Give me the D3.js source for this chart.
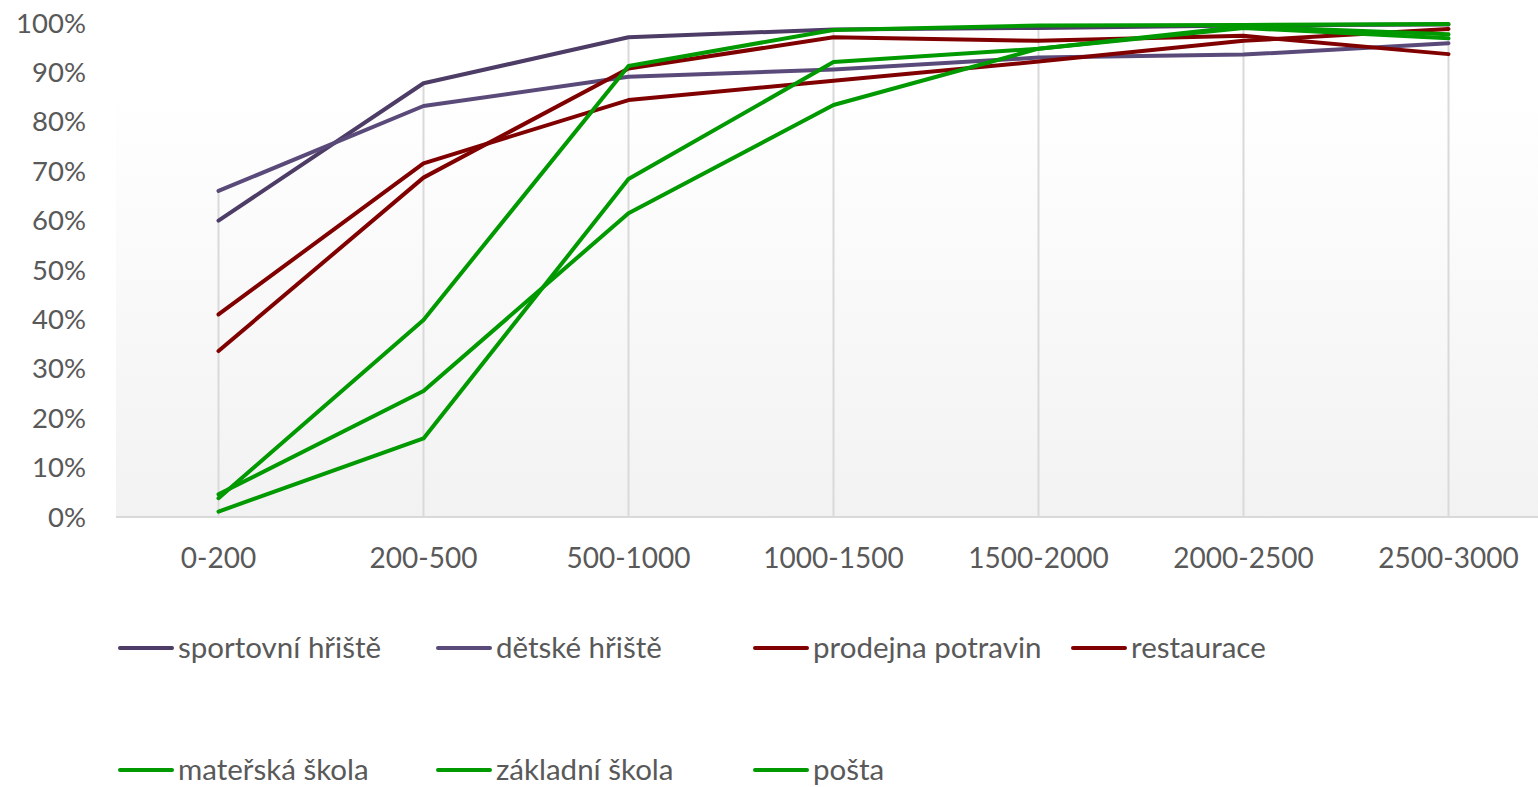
<!DOCTYPE html>
<html>
<head>
<meta charset="utf-8">
<script src="https://cdn.jsdelivr.net/npm/d3@7"></script>
<style>
  body { margin: 0; background: #fff; }
  svg text { font-family: Lato, "Open Sans", sans-serif; fill: #595959; }
</style>
</head>
<body>
<svg id="chart" width="1538" height="787"></svg>
<script>
const categories = ["0-200", "200-500", "500-1000", "1000-1500", "1500-2000", "2000-2500", "2500-3000"];
const yTicks = [0, 0.1, 0.2, 0.3, 0.4, 0.5, 0.6, 0.7, 0.8, 0.9, 1];

const sportovniHriste = [0.600, 0.878, 0.971, 0.987, 0.990, 0.995, 0.997];
const detskeHriste = [0.660, 0.832, 0.891, 0.906, 0.930, 0.936, 0.959];
const prodejnaPotravin = [0.410, 0.716, 0.844, 0.883, 0.922, 0.964, 0.988];
const restaurace = [0.336, 0.687, 0.908, 0.971, 0.964, 0.974, 0.937];
const materskaSkola = [0.038, 0.399, 0.913, 0.986, 0.995, 0.996, 0.998];
const zakladniSkola = [0.046, 0.255, 0.615, 0.834, 0.948, 0.993, 0.977];
const posta = [0.011, 0.159, 0.684, 0.921, 0.948, 0.990, 0.969];

const seriesNames = ["sportovní hřiště", "dětské hřiště", "prodejna potravin", "restaurace",
                     "mateřská škola", "základní škola", "pošta"];
const seriesValues = [sportovniHriste, detskeHriste, prodejnaPotravin, restaurace,
                      materskaSkola, zakladniSkola, posta];
const seriesColors = ["#4d3c66", "#5a4a7a", "#800000", "#800000", "#009900", "#009900", "#009900"];

const svg = d3.select("#chart");
const plotLeft = 116, plotRight = 1551, plotTop = 23, plotBottom = 517;

const x = d3.scaleBand().domain(categories).range([plotLeft, plotRight]).padding(0);
const xc = c => x(c) + x.bandwidth() / 2;
const y = d3.scaleLinear().domain([0, 1]).range([plotBottom, plotTop]);

// plot area background
const grad = svg.append("defs").append("linearGradient")
    .attr("id", "bg").attr("x1", 0).attr("y1", 0).attr("x2", 0).attr("y2", 1);
grad.append("stop").attr("offset", "0%").attr("stop-color", "#ffffff");
grad.append("stop").attr("offset", "100%").attr("stop-color", "#f2f2f2");
svg.append("rect")
    .attr("x", plotLeft).attr("y", 87)
    .attr("width", 1538 - plotLeft).attr("height", plotBottom - 87)
    .attr("fill", "url(#bg)");

// drop lines
svg.append("g").selectAll("line")
    .data(categories)
    .enter().append("line")
    .attr("x1", d => xc(d)).attr("x2", d => xc(d))
    .attr("y1", (d, i) => y(d3.max(seriesValues, s => s[i])))
    .attr("y2", y(0))
    .attr("stroke", "#d9d9d9").attr("stroke-width", 2);

// axis line
svg.append("line")
    .attr("x1", plotLeft).attr("x2", 1538)
    .attr("y1", y(0)).attr("y2", y(0))
    .attr("stroke", "#d9d9d9").attr("stroke-width", 2);

// y labels
svg.append("g").selectAll("text")
    .data(yTicks)
    .enter().append("text")
    .attr("x", 86).attr("y", d => y(d))
    .attr("dy", "0.35em")
    .attr("text-anchor", "end")
    .attr("font-size", 27.5)
    .text(d => d3.format(".0%")(d));

// x labels
svg.append("g").selectAll("text")
    .data(categories)
    .enter().append("text")
    .attr("x", d => xc(d)).attr("y", 558)
    .attr("dy", "0.35em")
    .attr("text-anchor", "middle")
    .attr("font-size", 28)
    .text(d => d);

// series lines
const line = d3.line()
    .x((d, i) => xc(categories[i]))
    .y(d => y(d));

svg.append("g").selectAll("path")
    .data(seriesValues)
    .enter().append("path")
    .attr("d", d => line(d))
    .attr("fill", "none")
    .attr("stroke", (d, i) => seriesColors[i])
    .attr("stroke-width", 4)
    .attr("stroke-linejoin", "round")
    .attr("stroke-linecap", "round");

// legend
const legendX = [120, 438, 755, 1073];
const legendY = [648, 770];
const legend = svg.append("g").selectAll("g")
    .data(seriesNames)
    .enter().append("g")
    .attr("transform", (d, i) => "translate(" + legendX[i % 4] + "," + legendY[Math.floor(i / 4)] + ")");

legend.append("line")
    .attr("x1", 0).attr("x2", 52)
    .attr("stroke", (d, i) => seriesColors[i])
    .attr("stroke-width", 4)
    .attr("stroke-linecap", "round");

legend.append("text")
    .attr("x", 58).attr("dy", "0.35em")
    .attr("font-size", 29.5)
    .text(d => d);
</script>
</body>
</html>
